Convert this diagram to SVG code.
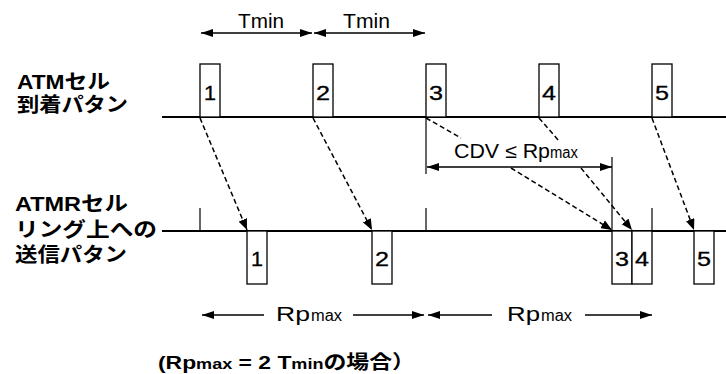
<svg xmlns="http://www.w3.org/2000/svg" width="726" height="374" viewBox="0 0 726 374">
<style>
text{font-family:"Liberation Sans","Noto Sans CJK JP",sans-serif;fill:#000}
.lbl{font-size:20px;font-weight:bold}
.cap{font-size:19px;font-weight:bold}
.num{font-size:20px;stroke:#000;stroke-width:0.3}
.t{font-size:20px}
.s{font-size:16px}
.box{fill:#fff;stroke:#000;stroke-width:1.3}
.axis{stroke:#000;stroke-width:2;fill:none}
.tick{stroke:#000;stroke-width:1.2;fill:none}
.arr{stroke:#000;stroke-width:1.3;fill:none}
.dash{stroke:#000;stroke-width:1.5;fill:none;stroke-dasharray:5 3}
</style>
<defs>
<marker id="ah" markerUnits="userSpaceOnUse" markerWidth="12" markerHeight="8" refX="12" refY="4" orient="auto-start-reverse" viewBox="0 0 12 8">
<path d="M0,0 L12,4 L0,8 z" fill="#000"/>
</marker>
<marker id="dh" markerUnits="userSpaceOnUse" markerWidth="11" markerHeight="9" refX="11" refY="4.5" orient="auto" viewBox="0 0 11 9">
<path d="M0,0 L11,4.5 L0,9 z" fill="#000"/>
</marker>
</defs>
<rect width="726" height="374" fill="#fff"/>

<g id="labels">
<text class="lbl" x="17" y="89" textLength="93" lengthAdjust="spacingAndGlyphs">ATMセル</text>
<text class="lbl" x="17" y="112" textLength="111" lengthAdjust="spacingAndGlyphs">到着パタン</text>
<text class="lbl" x="15" y="211" textLength="113" lengthAdjust="spacingAndGlyphs">ATMRセル</text>
<text class="lbl" x="15" y="237" textLength="142" lengthAdjust="spacingAndGlyphs">リング上への</text>
<text class="lbl" x="15" y="262" textLength="112" lengthAdjust="spacingAndGlyphs">送信パタン</text>
</g>

<g id="axes">
<line class="axis" x1="162" y1="117" x2="726" y2="117"/>
<line class="axis" x1="162" y1="231" x2="726" y2="231"/>
<line class="tick" x1="200" y1="208" x2="200" y2="231"/>
<line class="tick" x1="426" y1="208" x2="426" y2="231"/>
<line class="tick" x1="652" y1="208" x2="652" y2="231"/>
<line class="tick" x1="426" y1="117" x2="426" y2="174"/>
<line class="tick" x1="612" y1="157" x2="612" y2="231"/>
</g>

<g id="arrival-cells">
<g id="a1"><rect class="box" x="200" y="64" width="20" height="53"/><text class="num" x="204" y="100" textLength="12" lengthAdjust="spacingAndGlyphs">1</text></g>
<g id="a2"><rect class="box" x="313" y="64" width="20" height="53"/><text class="num" x="316" y="100" textLength="14" lengthAdjust="spacingAndGlyphs">2</text></g>
<g id="a3"><rect class="box" x="426" y="64" width="20" height="53"/><text class="num" x="429" y="100" textLength="14" lengthAdjust="spacingAndGlyphs">3</text></g>
<g id="a4"><rect class="box" x="539" y="64" width="20" height="53"/><text class="num" x="542" y="100" textLength="14" lengthAdjust="spacingAndGlyphs">4</text></g>
<g id="a5"><rect class="box" x="652" y="64" width="20" height="53"/><text class="num" x="655" y="100" textLength="14" lengthAdjust="spacingAndGlyphs">5</text></g>
</g>

<g id="sent-cells">
<g id="s1"><rect class="box" x="247" y="231" width="20" height="53"/><text class="num" x="251" y="266" textLength="12" lengthAdjust="spacingAndGlyphs">1</text></g>
<g id="s2"><rect class="box" x="372" y="231" width="20" height="53"/><text class="num" x="375" y="266" textLength="14" lengthAdjust="spacingAndGlyphs">2</text></g>
<g id="s3"><rect class="box" x="612" y="231" width="20" height="53"/><text class="num" x="615" y="266" textLength="14" lengthAdjust="spacingAndGlyphs">3</text></g>
<g id="s4"><rect class="box" x="632" y="231" width="20" height="53"/><text class="num" x="635" y="266" textLength="14" lengthAdjust="spacingAndGlyphs">4</text></g>
<g id="s5"><rect class="box" x="694" y="231" width="20" height="53"/><text class="num" x="697" y="266" textLength="14" lengthAdjust="spacingAndGlyphs">5</text></g>
</g>

<g id="connectors">
<line class="dash" x1="200" y1="118" x2="247" y2="230" marker-end="url(#dh)"/>
<line class="dash" x1="313" y1="118" x2="372" y2="230" marker-end="url(#dh)"/>
<line class="dash" x1="426" y1="118" x2="461" y2="138"/>
<line class="dash" x1="511" y1="168" x2="612" y2="230" marker-end="url(#dh)"/>
<line class="dash" x1="539" y1="118" x2="559" y2="141"/>
<line class="dash" x1="581" y1="168" x2="632" y2="230" marker-end="url(#dh)"/>
<line class="dash" x1="652" y1="118" x2="694" y2="230" marker-end="url(#dh)"/>

<line class="arr" x1="201" y1="33" x2="312" y2="33" marker-start="url(#ah)" marker-end="url(#ah)"/>
<line class="arr" x1="314" y1="33" x2="425" y2="33" marker-start="url(#ah)" marker-end="url(#ah)"/>
<line class="arr" x1="427" y1="167" x2="612" y2="167" marker-start="url(#ah)" marker-end="url(#ah)"/>

<line class="arr" x1="202" y1="315" x2="264" y2="315" marker-start="url(#ah)"/>
<line class="arr" x1="353" y1="315" x2="424" y2="315" marker-end="url(#ah)"/>
<line class="arr" x1="428" y1="315" x2="492" y2="315" marker-start="url(#ah)"/>
<line class="arr" x1="585" y1="315" x2="652" y2="315" marker-end="url(#ah)"/>
</g>

<g id="dim-labels">
<text class="t" x="238" y="28" textLength="46" lengthAdjust="spacingAndGlyphs">Tmin</text>
<text class="t" x="343" y="28" textLength="47" lengthAdjust="spacingAndGlyphs">Tmin</text>
<text class="t" x="454" y="158" textLength="96" lengthAdjust="spacingAndGlyphs">CDV ≤ Rp</text>
<text class="s" x="550" y="158" textLength="28" lengthAdjust="spacingAndGlyphs">max</text>
<text class="t" x="276" y="321" textLength="34" lengthAdjust="spacingAndGlyphs">Rp</text>
<text class="s" x="311" y="321" textLength="31" lengthAdjust="spacingAndGlyphs">max</text>
<text class="t" x="507" y="321" textLength="33" lengthAdjust="spacingAndGlyphs">Rp</text>
<text class="s" x="541" y="321" textLength="31" lengthAdjust="spacingAndGlyphs">max</text>
</g>

<g id="caption">
<text class="cap" x="158" y="369" textLength="257" lengthAdjust="spacingAndGlyphs">(Rp<tspan font-size="15">max</tspan> = 2 T<tspan font-size="15">min</tspan>の場合）</text>
</g>
</svg>
